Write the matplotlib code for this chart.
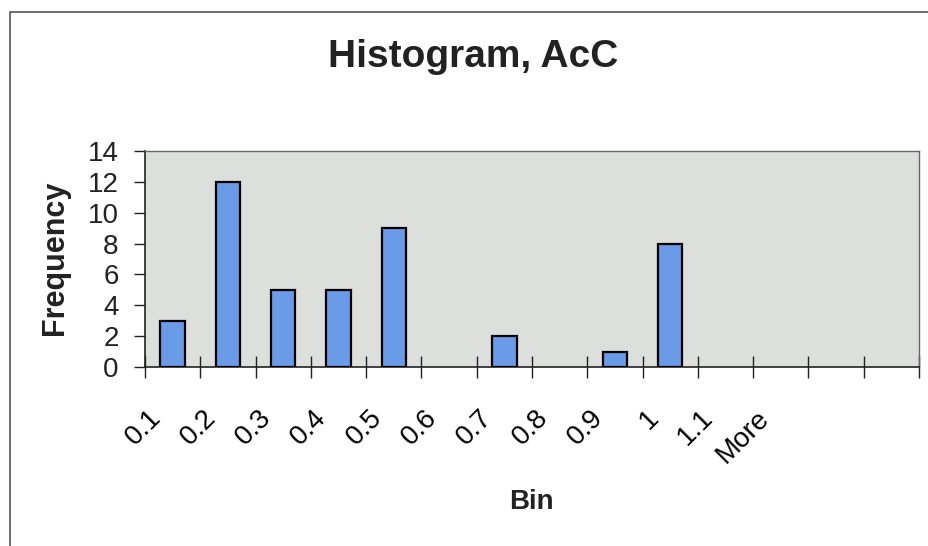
import matplotlib.pyplot as plt
import matplotlib.transforms as mtransforms
from matplotlib.patches import Rectangle

plt.rcParams['font.family'] = ['Liberation Sans', 'DejaVu Sans']

# Histogram bins (Excel style) and counts
bins = ['0.1', '0.2', '0.3', '0.4', '0.5', '0.6', '0.7', '0.8', '0.9', '1', '1.1', 'More', '', '']
frequency = [3, 12, 5, 5, 9, 0, 2, 0, 1, 8, 0, 0, 0, 0]
y_ticks = [0, 2, 4, 6, 8, 10, 12, 14]

W, H = 929, 546
fig = plt.figure(figsize=(W / 100, H / 100), dpi=100)
fig.patch.set_facecolor('white')

# chart area frame
fig.patches.append(Rectangle((10 / W, -0.05), 1.0, (H - 12) / H + 0.05,
                             transform=fig.transFigure, fill=False,
                             edgecolor='#555555', linewidth=1.2))

# plot area
left, right, top, bottom = 145, 919, 151, 367
ax = fig.add_axes([left / W, 1 - bottom / H, (right - left) / W, (bottom - top) / H])
ax.set_facecolor('#dcdfdb')

x = list(range(len(bins)))
# empty bins get no outline, like Excel
edges = ['black' if f > 0 else 'none' for f in frequency]
ax.bar(x, frequency, width=0.44, color='#6a9be6', edgecolor=edges, linewidth=1.6, zorder=3)

ax.set_xlim(-0.5, len(bins) - 0.5)
ax.set_ylim(0, 14)
ax.set_yticks(y_ticks)
ax.set_yticklabels([str(v) for v in y_ticks], fontsize=20)
ax.tick_params(axis='y', direction='out', length=8, width=1, pad=11, colors='#222222')

# x ticks sit between categories
ax.set_xticks([i - 0.5 for i in range(len(bins) + 1)], minor=False)
ax.set_xticklabels([])
ax.tick_params(axis='x', direction='inout', length=16, width=1, colors='#222222')
ax.set_xticks(x, minor=True)
ax.set_xticklabels(bins, minor=True, fontsize=20, rotation=45, ha='right', va='top',
                   rotation_mode='anchor')
ax.tick_params(axis='x', which='minor', length=0, pad=0)
offset = mtransforms.ScaledTranslation(-25 / 100, -38 / 100, fig.dpi_scale_trans)
for lab in ax.get_xticklabels(minor=True):
    lab.set_transform(lab.get_transform() + offset)

for side in ['left', 'bottom']:
    ax.spines[side].set_color('#222222')
    ax.spines[side].set_linewidth(1.2)
for side in ['top', 'right']:
    ax.spines[side].set_color('#666666')
    ax.spines[side].set_linewidth(1.0)

fig.text(473 / W, 1 - 57 / H, 'Histogram, AcC', fontsize=28, fontweight='bold',
         ha='center', va='center', color='#222222')
fig.text(55 / W, 1 - 258 / H, 'Frequency', fontsize=22, fontweight='bold',
         rotation=90, ha='center', va='center', color='#222222')
fig.text(531 / W, 1 - 502 / H, 'Bin', fontsize=20, fontweight='bold',
         ha='center', va='center', color='#222222')

fig.savefig('out.png', dpi=100)
